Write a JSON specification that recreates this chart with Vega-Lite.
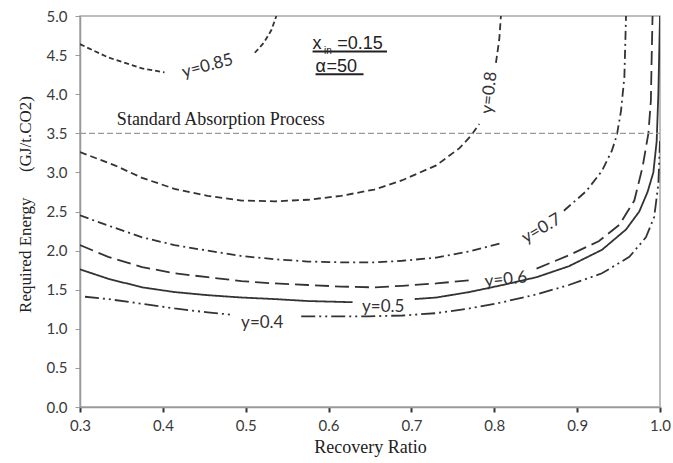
{
  "$schema": "https://vega.github.io/schema/vega-lite/v6.json",
  "width": 580,
  "height": 391,
  "autosize": {"type": "none"},
  "padding": {"left": 80, "top": 16, "right": 13, "bottom": 56},
  "background": "white",
  "config": {
    "view": {"stroke": "#a8a8a8", "strokeWidth": 1.5},
    "axis": {"grid": false, "domainColor": "#999999", "domainWidth": 1.5, "labelFont": "Lato", "labelFontSize": 15, "labelColor": "#3a3a3a", "tickSize": 5, "labelOverlap": false, "titleFont": "Liberation Serif", "titleFontWeight": "normal", "titleColor": "#222222"}
  },
  "datasets": {
    "curves": [
      {"c": "0.85", "s": "0.85a", "x": 0.300, "y": 4.64},
      {"c": "0.85", "s": "0.85a", "x": 0.334, "y": 4.47},
      {"c": "0.85", "s": "0.85a", "x": 0.375, "y": 4.33},
      {"c": "0.85", "s": "0.85a", "x": 0.402, "y": 4.28},
      {"c": "0.85", "s": "0.85b", "x": 0.511, "y": 4.53},
      {"c": "0.85", "s": "0.85b", "x": 0.522, "y": 4.66},
      {"c": "0.85", "s": "0.85b", "x": 0.531, "y": 4.82},
      {"c": "0.85", "s": "0.85b", "x": 0.537, "y": 5.00},
      {"c": "0.8", "s": "0.8a", "x": 0.300, "y": 3.26},
      {"c": "0.8", "s": "0.8a", "x": 0.342, "y": 3.09},
      {"c": "0.8", "s": "0.8a", "x": 0.375, "y": 2.93},
      {"c": "0.8", "s": "0.8a", "x": 0.414, "y": 2.79},
      {"c": "0.8", "s": "0.8a", "x": 0.454, "y": 2.70},
      {"c": "0.8", "s": "0.8a", "x": 0.495, "y": 2.64},
      {"c": "0.8", "s": "0.8a", "x": 0.535, "y": 2.63},
      {"c": "0.8", "s": "0.8a", "x": 0.575, "y": 2.65},
      {"c": "0.8", "s": "0.8a", "x": 0.615, "y": 2.70},
      {"c": "0.8", "s": "0.8a", "x": 0.655, "y": 2.78},
      {"c": "0.8", "s": "0.8a", "x": 0.689, "y": 2.90},
      {"c": "0.8", "s": "0.8a", "x": 0.730, "y": 3.09},
      {"c": "0.8", "s": "0.8a", "x": 0.758, "y": 3.31},
      {"c": "0.8", "s": "0.8a", "x": 0.772, "y": 3.47},
      {"c": "0.8", "s": "0.8a", "x": 0.782, "y": 3.62},
      {"c": "0.8", "s": "0.8b", "x": 0.802, "y": 4.40},
      {"c": "0.8", "s": "0.8b", "x": 0.806, "y": 4.70},
      {"c": "0.8", "s": "0.8b", "x": 0.808, "y": 5.00},
      {"c": "0.7", "s": "0.7a", "x": 0.300, "y": 2.45},
      {"c": "0.7", "s": "0.7a", "x": 0.334, "y": 2.32},
      {"c": "0.7", "s": "0.7a", "x": 0.375, "y": 2.17},
      {"c": "0.7", "s": "0.7a", "x": 0.414, "y": 2.07},
      {"c": "0.7", "s": "0.7a", "x": 0.454, "y": 2.00},
      {"c": "0.7", "s": "0.7a", "x": 0.495, "y": 1.93},
      {"c": "0.7", "s": "0.7a", "x": 0.535, "y": 1.89},
      {"c": "0.7", "s": "0.7a", "x": 0.575, "y": 1.86},
      {"c": "0.7", "s": "0.7a", "x": 0.615, "y": 1.85},
      {"c": "0.7", "s": "0.7a", "x": 0.655, "y": 1.85},
      {"c": "0.7", "s": "0.7a", "x": 0.689, "y": 1.87},
      {"c": "0.7", "s": "0.7a", "x": 0.730, "y": 1.91},
      {"c": "0.7", "s": "0.7a", "x": 0.770, "y": 1.99},
      {"c": "0.7", "s": "0.7a", "x": 0.810, "y": 2.10},
      {"c": "0.7", "s": "0.7b", "x": 0.884, "y": 2.51},
      {"c": "0.7", "s": "0.7b", "x": 0.911, "y": 2.76},
      {"c": "0.7", "s": "0.7b", "x": 0.930, "y": 3.02},
      {"c": "0.7", "s": "0.7b", "x": 0.942, "y": 3.28},
      {"c": "0.7", "s": "0.7b", "x": 0.948, "y": 3.48},
      {"c": "0.7", "s": "0.7b", "x": 0.953, "y": 3.79},
      {"c": "0.7", "s": "0.7b", "x": 0.957, "y": 4.22},
      {"c": "0.7", "s": "0.7b", "x": 0.959, "y": 5.00},
      {"c": "0.6", "s": "0.6a", "x": 0.300, "y": 2.07},
      {"c": "0.6", "s": "0.6a", "x": 0.334, "y": 1.92},
      {"c": "0.6", "s": "0.6a", "x": 0.375, "y": 1.79},
      {"c": "0.6", "s": "0.6a", "x": 0.414, "y": 1.71},
      {"c": "0.6", "s": "0.6a", "x": 0.454, "y": 1.66},
      {"c": "0.6", "s": "0.6a", "x": 0.495, "y": 1.61},
      {"c": "0.6", "s": "0.6a", "x": 0.535, "y": 1.58},
      {"c": "0.6", "s": "0.6a", "x": 0.575, "y": 1.56},
      {"c": "0.6", "s": "0.6a", "x": 0.615, "y": 1.54},
      {"c": "0.6", "s": "0.6a", "x": 0.655, "y": 1.53},
      {"c": "0.6", "s": "0.6a", "x": 0.689, "y": 1.55},
      {"c": "0.6", "s": "0.6a", "x": 0.730, "y": 1.58},
      {"c": "0.6", "s": "0.6a", "x": 0.770, "y": 1.62},
      {"c": "0.6", "s": "0.6b", "x": 0.851, "y": 1.77},
      {"c": "0.6", "s": "0.6b", "x": 0.890, "y": 1.94},
      {"c": "0.6", "s": "0.6b", "x": 0.926, "y": 2.12},
      {"c": "0.6", "s": "0.6b", "x": 0.951, "y": 2.33},
      {"c": "0.6", "s": "0.6b", "x": 0.969, "y": 2.64},
      {"c": "0.6", "s": "0.6b", "x": 0.979, "y": 3.07},
      {"c": "0.6", "s": "0.6b", "x": 0.986, "y": 3.50},
      {"c": "0.6", "s": "0.6b", "x": 0.989, "y": 3.92},
      {"c": "0.6", "s": "0.6b", "x": 0.990, "y": 4.50},
      {"c": "0.6", "s": "0.6b", "x": 0.991, "y": 5.00},
      {"c": "0.5", "s": "0.5a", "x": 0.300, "y": 1.76},
      {"c": "0.5", "s": "0.5a", "x": 0.334, "y": 1.64},
      {"c": "0.5", "s": "0.5a", "x": 0.375, "y": 1.53},
      {"c": "0.5", "s": "0.5a", "x": 0.414, "y": 1.47},
      {"c": "0.5", "s": "0.5a", "x": 0.454, "y": 1.43},
      {"c": "0.5", "s": "0.5a", "x": 0.495, "y": 1.40},
      {"c": "0.5", "s": "0.5a", "x": 0.535, "y": 1.38},
      {"c": "0.5", "s": "0.5a", "x": 0.575, "y": 1.355},
      {"c": "0.5", "s": "0.5a", "x": 0.629, "y": 1.34},
      {"c": "0.5", "s": "0.5b", "x": 0.704, "y": 1.38},
      {"c": "0.5", "s": "0.5b", "x": 0.730, "y": 1.40},
      {"c": "0.5", "s": "0.5b", "x": 0.770, "y": 1.47},
      {"c": "0.5", "s": "0.5b", "x": 0.810, "y": 1.56},
      {"c": "0.5", "s": "0.5b", "x": 0.851, "y": 1.66},
      {"c": "0.5", "s": "0.5b", "x": 0.890, "y": 1.80},
      {"c": "0.5", "s": "0.5b", "x": 0.930, "y": 2.01},
      {"c": "0.5", "s": "0.5b", "x": 0.959, "y": 2.27},
      {"c": "0.5", "s": "0.5b", "x": 0.975, "y": 2.50},
      {"c": "0.5", "s": "0.5b", "x": 0.985, "y": 2.75},
      {"c": "0.5", "s": "0.5b", "x": 0.992, "y": 3.00},
      {"c": "0.5", "s": "0.5b", "x": 0.996, "y": 3.40},
      {"c": "0.5", "s": "0.5b", "x": 0.998, "y": 4.00},
      {"c": "0.5", "s": "0.5b", "x": 0.999, "y": 4.50},
      {"c": "0.5", "s": "0.5b", "x": 1.000, "y": 5.00},
      {"c": "0.4", "s": "0.4a", "x": 0.306, "y": 1.41},
      {"c": "0.4", "s": "0.4a", "x": 0.334, "y": 1.38},
      {"c": "0.4", "s": "0.4a", "x": 0.375, "y": 1.32},
      {"c": "0.4", "s": "0.4a", "x": 0.414, "y": 1.26},
      {"c": "0.4", "s": "0.4a", "x": 0.454, "y": 1.21},
      {"c": "0.4", "s": "0.4a", "x": 0.483, "y": 1.18},
      {"c": "0.4", "s": "0.4b", "x": 0.567, "y": 1.16},
      {"c": "0.4", "s": "0.4b", "x": 0.615, "y": 1.16},
      {"c": "0.4", "s": "0.4b", "x": 0.649, "y": 1.16},
      {"c": "0.4", "s": "0.4b", "x": 0.689, "y": 1.17},
      {"c": "0.4", "s": "0.4b", "x": 0.730, "y": 1.20},
      {"c": "0.4", "s": "0.4b", "x": 0.770, "y": 1.26},
      {"c": "0.4", "s": "0.4b", "x": 0.810, "y": 1.34},
      {"c": "0.4", "s": "0.4b", "x": 0.851, "y": 1.44},
      {"c": "0.4", "s": "0.4b", "x": 0.890, "y": 1.56},
      {"c": "0.4", "s": "0.4b", "x": 0.930, "y": 1.71},
      {"c": "0.4", "s": "0.4b", "x": 0.963, "y": 1.92},
      {"c": "0.4", "s": "0.4b", "x": 0.983, "y": 2.17},
      {"c": "0.4", "s": "0.4b", "x": 0.993, "y": 2.43},
      {"c": "0.4", "s": "0.4b", "x": 0.998, "y": 2.85},
      {"c": "0.4", "s": "0.4b", "x": 1.000, "y": 3.40}
    ],
    "labels": [
      {"t": "y=0.85", "x": 0.454, "y": 4.36, "a": -15},
      {"t": "y=0.8", "x": 0.794, "y": 4.02, "a": -84},
      {"t": "y=0.7", "x": 0.857, "y": 2.28, "a": -30},
      {"t": "y=0.6", "x": 0.814, "y": 1.63, "a": -6},
      {"t": "y=0.5", "x": 0.666, "y": 1.28, "a": 0},
      {"t": "y=0.4", "x": 0.520, "y": 1.07, "a": 0}
    ],
    "annot": [
      {"t": "x", "x": 0.5807, "y": 4.575, "sz": 18, "f": "Lato", "st": "normal"},
      {"t": "in", "x": 0.5945, "y": 4.515, "sz": 10, "f": "Lato", "st": "normal"},
      {"t": "=0.15", "x": 0.6105, "y": 4.575, "sz": 18, "f": "Lato", "st": "normal"},
      {"t": "α", "x": 0.5843, "y": 4.29, "sz": 18, "f": "Liberation Serif", "st": "italic"},
      {"t": "=50", "x": 0.5976, "y": 4.29, "sz": 18, "f": "Lato", "st": "normal"}
    ],
    "underlines": [
      {"x": 0.5807, "x2": 0.6705, "y": 4.546},
      {"x": 0.5843, "x2": 0.6422, "y": 4.255}
    ]
  },
  "encoding": {
    "x": {"field": "x", "type": "quantitative", "scale": {"domain": [0.3, 1.0], "nice": false, "zero": false},
          "axis": {"title": "Recovery Ratio", "titleFontSize": 18, "titlePadding": 5, "values": [0.3, 0.4, 0.5, 0.6, 0.7, 0.8, 0.9, 1.0], "format": ".1f", "tickColor": "#333333", "tickWidth": 2, "labelPadding": 6, "labelFlush": false, "labelOverlap": false}},
    "y": {"field": "y", "type": "quantitative", "scale": {"domain": [0, 5], "nice": false, "zero": false},
          "axis": {"title": "Required Energy\u00a0\u00a0\u00a0\u00a0\u00a0\u00a0(GJ/t.CO2)", "titleFontSize": 17, "titleX": -55, "titleY": 188, "titleAngle": -90, "titleBaseline": "middle", "titleAlign": "center", "values": [0, 0.5, 1, 1.5, 2, 2.5, 3, 3.5, 4, 4.5, 5], "format": ".1f", "tickColor": "#999999", "labelPadding": 8, "labelFlush": false, "labelOverlap": false, "labelBound": false}}
  },
  "layer": [
    {
      "data": {"name": "curves"},
      "mark": {"type": "line", "color": "#333333", "strokeWidth": 1.8, "clip": true},
      "encoding": {
        "detail": {"field": "s", "type": "nominal"},
        "strokeDash": {"field": "c", "type": "nominal", "legend": null,
                       "scale": {"domain": ["0.85", "0.8", "0.7", "0.6", "0.5", "0.4"], "range": [[5, 3], [7, 4], [9, 4, 2, 4], [14, 6], [1, 0], [14, 4, 2, 4, 2, 4]]}}
      }
    },
    {
      "data": {"values": [{"x": 0.3, "x2": 1.0, "y": 3.5}]},
      "mark": {"type": "rule", "color": "#9a9a9a", "strokeWidth": 1.2, "strokeDash": [6, 3]},
      "encoding": {
        "x2": {"field": "x2"}
      }
    },
    {
      "data": {"name": "labels"},
      "mark": {"type": "text", "font": "Lato", "fontSize": 17, "color": "#333333", "align": "center", "baseline": "middle"},
      "encoding": {
        "text": {"field": "t"},
        "angle": {"field": "a", "type": "quantitative", "scale": null}
      }
    },
    {
      "data": {"name": "annot"},
      "mark": {"type": "text", "color": "#222222", "align": "left", "baseline": "alphabetic"},
      "encoding": {
        "text": {"field": "t"},
        "size": {"field": "sz", "type": "quantitative", "scale": null},
        "font": {"field": "f", "type": "nominal", "scale": null},
        "fontStyle": {"field": "st", "type": "nominal", "scale": null}
      }
    },
    {
      "data": {"name": "underlines"},
      "mark": {"type": "rule", "color": "#222222", "strokeWidth": 2},
      "encoding": {
        "x2": {"field": "x2"}
      }
    },
    {
      "data": {"values": [{"t": "Standard Absorption Process", "x": 0.47, "y": 3.67}]},
      "mark": {"type": "text", "font": "Liberation Serif", "fontSize": 18, "color": "#222222", "align": "center", "baseline": "middle"},
      "encoding": {
        "text": {"field": "t"}
      }
    }
  ]
}
